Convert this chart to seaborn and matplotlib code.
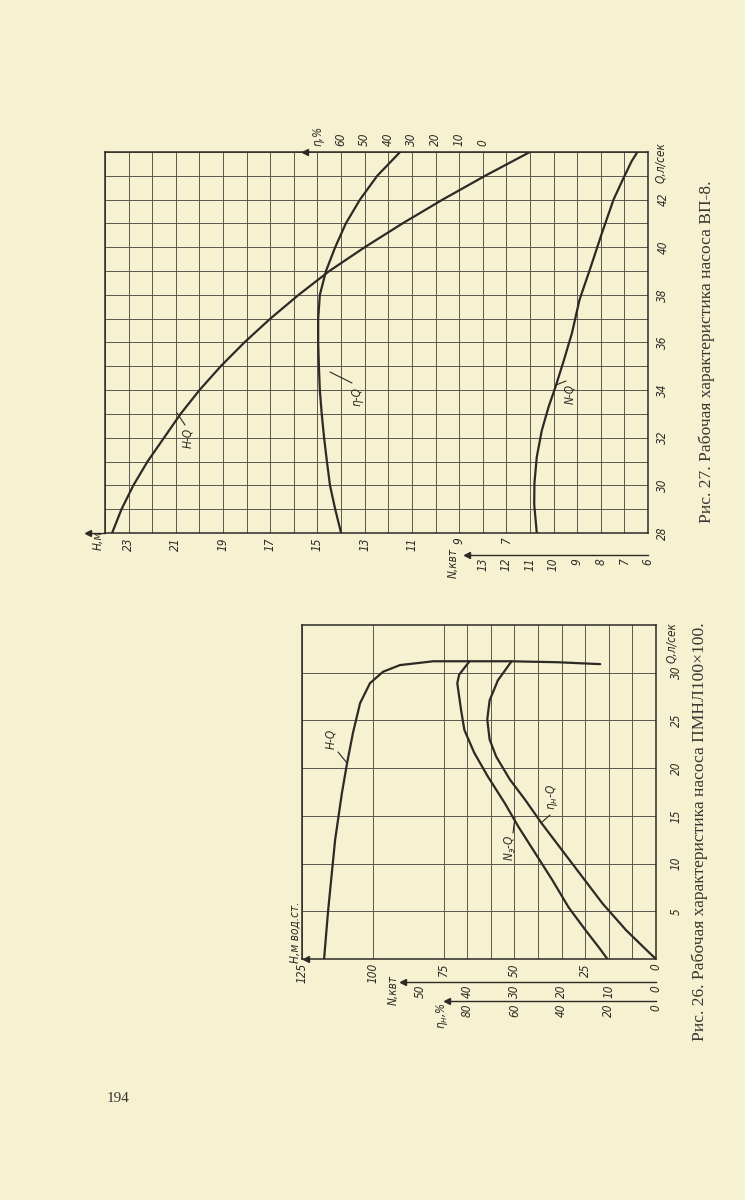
import matplotlib
matplotlib.use("Agg")
import matplotlib.pyplot as plt
import seaborn as sns

# ---------------- data: Fig. 27, pump ВП-8 ----------------
q27 = [28, 29, 30, 31, 32, 33, 34, 35, 36, 37, 38, 39, 40, 41, 42, 43, 44]
h27 = [23.7, 23.3, 22.8, 22.2, 21.5, 20.8, 20.0, 19.1, 18.1, 17.0, 15.8, 14.5, 13.0, 11.4, 9.7, 7.9, 6.0]
eta27 = [60.0, 62.5, 64.7, 66.0, 67.2, 68.2, 69.0, 69.4, 69.7, 69.7, 69.0, 66.4, 62.5, 58.0, 52.0, 44.7, 35.0]
qn27 = [28.0, 29.2, 30.1, 31.2, 32.3, 33.3, 34.1, 35.2, 36.4, 37.8, 39.1, 40.6, 42.0, 42.9, 43.6, 44.0]
n27 = [10.71, 10.82, 10.81, 10.71, 10.50, 10.21, 9.93, 9.58, 9.22, 8.90, 8.45, 7.95, 7.46, 7.04, 6.70, 6.45]

h27_ticks = [7, 9, 11, 13, 15, 17, 19, 21, 23]
q27_ticks = [28, 30, 32, 34, 36, 38, 40, 42]
eta27_ticks = [0, 10, 20, 30, 40, 50, 60]
n27_ticks = [6, 7, 8, 9, 10, 11, 12, 13]

# ---------------- data: Fig. 26, pump ПМНЛ100x100 ----------------
qh26 = [0, 5.0, 12.5, 17.4, 20.5, 23.7, 26.8, 28.9, 30.1, 30.8, 31.0, 31.2, 31.2, 31.1, 30.9]
h26 = [117.2, 115.8, 113.3, 110.9, 109.1, 107.0, 104.5, 101.0, 96.4, 90.4, 84.4, 78.7, 51.5, 35.0, 19.7]
qn26 = [0, 1.15, 3.0, 5.4, 8.3, 11.1, 13.9, 16.3, 19.1, 21.6, 24.0, 26.1, 28.9, 29.8, 31.2]
n26 = [10.3, 12.0, 14.9, 18.5, 22.0, 25.6, 29.2, 32.0, 35.6, 38.5, 40.6, 41.3, 42.1, 41.7, 39.5]
qe26 = [0, 0.6, 3.0, 5.8, 8.6, 11.4, 14.2, 16.7, 18.8, 21.2, 23.0, 25.1, 27.1, 29.2, 31.2]
eta26 = [0, 2.6, 12.6, 22.6, 31.2, 39.8, 48.4, 55.5, 61.9, 67.7, 70.5, 71.5, 70.5, 67.0, 61.2]

h26_ticks = [125, 100, 75, 50, 25, 0]
q26_ticks = [5, 10, 15, 20, 25, 30]
n26_ticks = [0, 10, 20, 30, 40, 50]
eta26_ticks = [0, 20, 40, 60, 80]

cap27 = "Рис. 27. Рабочая характеристика насоса ВП-8."
cap26 = "Рис. 26. Рабочая характеристика насоса ПМНЛ100×100."

# ---------------- style ----------------
BG = "#f5f1d1"
INK = "#2d2a25"
GRID = "#5a584e"
sns.set_theme(style="white")
plt.rcParams["font.family"] = ["DejaVu Sans"]
plt.rcParams["mathtext.fontset"] = "dejavusans"
TF = dict(fontstyle="italic", fontstretch="condensed", fontsize=8.5, color=INK)

W, HP = 745.0, 1200.0
fig = plt.figure(figsize=(7.45, 12), dpi=100, facecolor=BG)


def box(x0, y0, x1, y1):
    return [x0 / W, 1 - y1 / HP, (x1 - x0) / W, (y1 - y0) / HP]


def ftext(x, y, s, **kw):
    d = dict(TF)
    d.update(kw)
    fig.text(x / W, 1 - y / HP, s, rotation=90, ha="center", va="center", **d)


def fline(xs, ys, lw=0.8):
    fig.add_artist(plt.Line2D([x / W for x in xs], [1 - y / HP for y in ys],
                              color=INK, lw=lw, transform=fig.transFigure))


def curve(ax, x, y):
    sns.lineplot(x=x, y=y, ax=ax, sort=False, estimator=None, color=INK, lw=1.6)
    ax.set_xlabel("")
    ax.set_ylabel("")


def frame(ax):
    ax.set_facecolor("none")
    for s in ax.spines.values():
        s.set_color(INK)
        s.set_linewidth(1.1)


def strip(x0, x1, y, lim, major, minor, labels):
    a = fig.add_axes([x0 / W, 1 - y / HP, (x1 - x0) / W, 0.5 / HP])
    a.set_facecolor("none")
    a.set_xlim(*lim)
    a.set_ylim(0, 1)
    for s in ["top", "left", "right"]:
        a.spines[s].set_visible(False)
    a.spines["bottom"].set_color(INK)
    a.spines["bottom"].set_linewidth(1.0)
    a.set_yticks([])
    a.set_xticks(major)
    a.set_xticklabels(labels, rotation=90, **TF)
    a.set_xticks(minor, minor=True)
    a.tick_params(axis="x", which="both", direction="in", length=4, width=0.9,
                  color=INK, pad=2)
    a.plot([0], [0], marker="<", ms=4.5, color=INK, transform=a.transAxes, clip_on=False)
    return a


# ================= Fig. 27 =================
ax1 = fig.add_axes(box(105, 152, 648, 533))
frame(ax1)
ax1.set_xlim(24, 1)
ax1.set_ylim(28, 44)
ax1.set_xticks(range(1, 25))
ax1.set_xticklabels([str(v) if v in h27_ticks else "" for v in range(1, 25)], rotation=90, **TF)
ax1.set_yticks(range(28, 45))
ax1.yaxis.tick_right()
ax1.set_yticklabels([str(v) if v in q27_ticks else "" for v in range(28, 45)],
                    rotation=90, va="center", **TF)
ax1.tick_params(axis="x", length=0, pad=3)
ax1.tick_params(axis="y", length=0, pad=6)
ax1.grid(True, color=GRID, lw=0.7)
curve(ax1, h27, q27)

ax1e = ax1.twiny()
ax1e.set_xlim(160, -70)
ax1e.set_xticks(eta27_ticks)
ax1e.set_xticklabels([str(v) for v in eta27_ticks], rotation=90, **TF)
ax1e.tick_params(axis="x", length=0, pad=4)
ax1e.grid(False)
for s in ax1e.spines.values():
    s.set_visible(False)
curve(ax1e, eta27, q27)
ax1e.plot([75.3], [44], marker="<", ms=4.5, color=INK, clip_on=False)

ax1n = ax1.twiny()
ax1n.set_xlim(29, 6)
ax1n.xaxis.set_visible(False)
ax1n.grid(False)
for s in ax1n.spines.values():
    s.set_visible(False)
curve(ax1n, n27, qn27)

strip(467, 648, 555, (13.66, 6.0), n27_ticks, [], [str(v) for v in n27_ticks])

fline([105, 88], [533, 533], lw=1.0)
fig.add_artist(plt.Line2D([88 / W], [1 - 533 / HP], marker="<", ms=4.5, color=INK,
                          transform=fig.transFigure))
ftext(98, 540, "H,м")
ftext(453, 563, "N,квт")
ftext(318, 136, "η,%")
ftext(661, 163, "Q,л/сек")
ftext(188, 438, "H-Q")
fline([185, 177], [425, 413])
ftext(357, 396, "η-Q")
fline([352, 330], [383, 372])
ftext(570, 394, "N-Q")
fline([566, 556], [381, 385])

# ================= Fig. 26 =================
ax2 = fig.add_axes(box(302, 625, 656, 959))
frame(ax2)
ax2.set_xlim(125, 0)
ax2.set_ylim(0, 35)
ax2.set_xticks(h26_ticks)
ax2.set_xticklabels([str(v) for v in h26_ticks], rotation=90, **TF)
ax2.set_xticks([25 * k / 3 for k in range(1, 9) if k % 3], minor=True)
ax2.set_yticks(q26_ticks)
ax2.yaxis.tick_right()
ax2.set_yticklabels([str(v) for v in q26_ticks], rotation=90, va="center", **TF)
ax2.tick_params(axis="x", which="both", length=0, pad=3)
ax2.tick_params(axis="y", length=0, pad=10)
ax2.grid(True, which="both", color=GRID, lw=0.7)
curve(ax2, h26, qh26)

ax2n = ax2.twiny()
ax2n.set_xlim(75, 0)
ax2n.xaxis.set_visible(False)
ax2n.grid(False)
for s in ax2n.spines.values():
    s.set_visible(False)
curve(ax2n, n26, qn26)

ax2e = ax2.twiny()
ax2e.set_xlim(150, 0)
ax2e.xaxis.set_visible(False)
ax2e.grid(False)
for s in ax2e.spines.values():
    s.set_visible(False)
curve(ax2e, eta26, qe26)

strip(403, 656, 982, (53.6, 0), n26_ticks, [5, 15, 25, 35, 45], [str(v) for v in n26_ticks])
strip(447, 656, 1001, (88.6, 0), eta26_ticks, [10, 30, 50, 70], [str(v) for v in eta26_ticks])

fig.add_artist(plt.Line2D([306 / W], [1 - 959 / HP], marker="<", ms=4.5, color=INK,
                          transform=fig.transFigure))
ftext(295, 932, "H,м вод.ст.")
ftext(393, 990, "N,квт")
ftext(442, 1016, "η$_н$,%")
ftext(672, 643, "Q,л/сек")
ftext(331, 739, "H-Q")
fline([338, 347], [752, 763])
ftext(510, 848, "N$_э$-Q")
fline([513, 515], [833, 817])
ftext(552, 797, "η$_н$-Q")
fline([550, 541], [815, 823])

# ================= captions, page number =================
CF = dict(family="Liberation Serif", fontsize=12.6, color="#3a3630", fontstyle="normal",
          fontstretch="normal")
ftext(707, 352, cap27, **CF)
ftext(700, 832, cap26, **CF)
fig.text(118 / W, 1 - 1098 / HP, "194", ha="center", va="center",
         family="Liberation Serif", fontsize=11, color="#3a3630")

fig.savefig("out.png", dpi=100, facecolor=BG)
